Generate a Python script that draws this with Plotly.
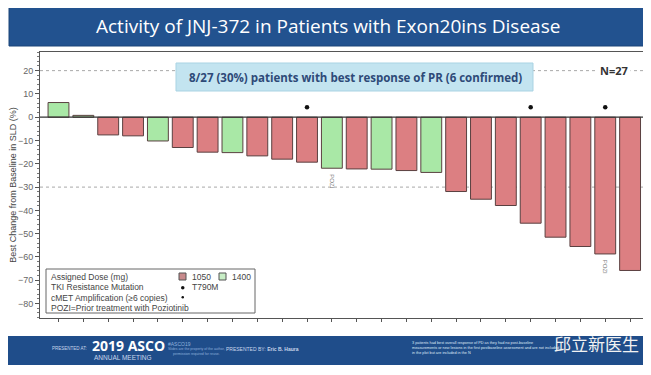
import plotly.graph_objects as go

# ---- data ----
patients = list(range(1, 25))
best_change = [6.3, 0.8, -7.6, -8.0, -10.2, -13.0, -15.0, -15.2, -16.6, -18.0, -19.3, -21.9,
               -22.2, -22.3, -22.9, -23.7, -31.9, -35.2, -37.9, -45.5, -51.5, -55.5, -58.7, -65.8]
dose = [1400, 1400, 1050, 1050, 1400, 1050, 1050, 1400, 1050, 1050, 1050, 1400,
        1050, 1400, 1050, 1400, 1050, 1050, 1050, 1050, 1050, 1050, 1050, 1050]
t790m_patients = [11, 23]
cmet_patients = [20]
pozi_patients = [12, 23]
marker_level = 4.3
y_ticks = [20, 10, 0, -10, -20, -30, -40, -50, -60, -70, -80]

OFF = 8  # page body margin
W, H = 651 - OFF, 375 - OFF
PL, PR, PT, PB = 40, 645, 52, 318  # plot area in page pixels
L, T = PL - OFF, PT - OFF
R, B = W - (PR - OFF), H - (PB - OFF)
PW, PH = PR - PL, PB - PT


def px(x):
    return (x - PL) / PW


def py(y):
    return (PB - y) / PH


RED = "#dc7f82"
GREEN = "#a9e8a6"
colors = [RED if d == 1050 else GREEN for d in dose]

fig = go.Figure()
fig.add_trace(go.Bar(
    x=patients, y=best_change, width=0.84,
    marker=dict(color=colors, line=dict(color="#5a4040", width=1)),
    showlegend=False, hoverinfo="skip"))

dots_x = t790m_patients + cmet_patients
fig.add_trace(go.Scatter(
    x=dots_x, y=[marker_level] * len(dots_x), mode="markers",
    marker=dict(color="#111111", size=4.5), showlegend=False, hoverinfo="skip"))

for p in pozi_patients:
    fig.add_annotation(x=p, y=best_change[p - 1], yshift=-4, text="POZI", textangle=90,
                       showarrow=False, yanchor="top", xanchor="center",
                       font=dict(size=6, color="#777777", family="Liberation Sans"))

shapes = []
for yv in [20, -30]:
    shapes.append(dict(type="line", xref="paper", yref="y", x0=0, x1=1, y0=yv, y1=yv,
                       line=dict(color="#a8a8a8", width=1, dash="3px,3px"), layer="below"))
shapes.append(dict(type="line", xref="paper", yref="y", x0=0, x1=1, y0=0, y1=0,
                   line=dict(color="#333333", width=1.2)))
# title banner
shapes.append(dict(type="rect", xref="paper", yref="paper", x0=px(9), x1=px(646), y0=py(46), y1=py(6),
                   fillcolor="#22528f", line=dict(color="#1a4478", width=1), layer="above"))
# response box
shapes.append(dict(type="rect", xref="paper", yref="paper", x0=px(176), x1=px(533), y0=py(91), y1=py(63),
                   fillcolor="#c3e4f0", line=dict(color="#a9d3e3", width=1), layer="above"))
# legend box
shapes.append(dict(type="rect", xref="paper", yref="paper", x0=px(46), x1=px(255), y0=py(313), y1=py(269),
                   fillcolor="white", line=dict(color="#666666", width=1), layer="above"))
shapes.append(dict(type="rect", xref="paper", yref="paper", x0=px(179), x1=px(186), y0=py(280), y1=py(273),
                   fillcolor="#c88a8c", line=dict(color="#555555", width=1), layer="above"))
shapes.append(dict(type="rect", xref="paper", yref="paper", x0=px(219), x1=px(226), y0=py(280), y1=py(273),
                   fillcolor="#c8eec6", line=dict(color="#555555", width=1), layer="above"))
shapes.append(dict(type="circle", xref="paper", yref="paper", x0=px(181), x1=px(184.5), y0=py(289.5), y1=py(286),
                   fillcolor="#111111", line=dict(width=0), layer="above"))
shapes.append(dict(type="circle", xref="paper", yref="paper", x0=px(181.5), x1=px(184), y0=py(298.5), y1=py(296),
                   fillcolor="#111111", line=dict(width=0), layer="above"))
# footer band
shapes.append(dict(type="rect", xref="paper", yref="paper", x0=px(2), x1=px(646), y0=py(365), y1=py(336),
                   fillcolor="#1f4d8a", line=dict(width=0), layer="above"))
fig.update_layout(shapes=shapes)

ann = []
ann.append(dict(x=px(328), y=py(26), text="Activity of JNJ-372 in Patients with Exon20ins Disease",
                font=dict(size=19, color="white", family="Open Sans")))
ann.append(dict(x=px(355), y=py(77), text="<b>8/27 (30%) patients with best response of PR (6 confirmed)</b>",
                font=dict(size=11.5, color="#2e4a78", family="Open Sans")))
ann.append(dict(x=px(614), y=py(71), text="<b>N=27</b>", bgcolor="white", borderpad=2,
                font=dict(size=11, color="#333333", family="Open Sans")))
leg_font = dict(size=8.5, color="#444444", family="Liberation Sans")
for txt, yy in [("Assigned Dose (mg)", 276.5), ("TKI Resistance Mutation", 287),
                ("cMET Amplification (≥6 copies)", 297.5), ("POZI=Prior treatment with Poziotinib", 307.5)]:
    ann.append(dict(x=px(48.5), y=py(yy), text=txt, xanchor="left", font=leg_font))
for txt, xx, yy in [("1050", 190, 276.5), ("1400", 230, 276.5), ("T790M", 190, 287)]:
    ann.append(dict(x=px(xx), y=py(yy), text=txt, xanchor="left", font=leg_font))
# footer texts
ann.append(dict(x=px(50), y=py(348), text="PRESENTED AT:", xanchor="left",
                font=dict(size=4.5, color="#c9d6ea", family="Liberation Sans")))
ann.append(dict(x=px(90), y=py(345), text="<b>2019 ASCO</b>", xanchor="left",
                font=dict(size=14, color="white", family="Open Sans")))
ann.append(dict(x=px(92), y=py(357), text="ANNUAL MEETING", xanchor="left",
                font=dict(size=6.5, color="#c9d6ea", family="Liberation Sans")))
ann.append(dict(x=px(166), y=py(344), text="#ASCO19", xanchor="left",
                font=dict(size=5, color="#8fb0dd", family="Liberation Sans")))
ann.append(dict(x=px(166), y=py(351), text="Slides are the property of the author,<br>permission required for reuse.",
                xanchor="left", font=dict(size=3.5, color="#8fb0dd", family="Liberation Sans")))
ann.append(dict(x=px(224), y=py(349), text="PRESENTED BY: <b>Eric B. Haura</b>", xanchor="left",
                font=dict(size=5, color="#c9d6ea", family="Liberation Sans")))
ann.append(dict(x=px(410), y=py(348),
                text="3 patients had best overall response of PD as they had no post-baseline<br>"
                     "measurements or new lesions in the first postbaseline assessment and are not included<br>"
                     "in the plot but are included in the N",
                xanchor="left", align="left",
                font=dict(size=3.8, color="#dfe8f5", family="Liberation Sans")))
ann.append(dict(x=px(596), y=py(343), text="邱立新医生",
                font=dict(size=17, color="#f2f2f2", family="Noto Sans CJK SC")))
for a in ann:
    a.update(xref="paper", yref="paper", showarrow=False)
    a.setdefault("xanchor", "center")
    a.setdefault("yanchor", "middle")
    fig.add_annotation(**a)

fig.update_layout(
    width=W, height=H, margin=dict(l=L, r=R, t=T, b=B, autoexpand=False),
    paper_bgcolor="white", plot_bgcolor="white",
    xaxis=dict(range=[0.256, 24.6], tickvals=patients, showticklabels=False, automargin=False,
               ticks="outside", ticklen=3, tickcolor="#555555",
               showgrid=False, zeroline=False, showline=True, linecolor="#555555", linewidth=1,
               mirror=True),
    yaxis=dict(range=[-86.2, 28.0], tickvals=y_ticks, ticks="outside", ticklen=4, tickcolor="#555555",
               automargin=False,
               minor=dict(dtick=2, ticks="outside", ticklen=2, tickcolor="#777777"),
               tickfont=dict(size=9, color="#666666", family="Liberation Sans"),
               showgrid=False, zeroline=False, showline=True, linecolor="#555555", linewidth=1,
               mirror=True,
               title=dict(text="Best Change from Baseline in SLD (%)", standoff=6,
                          font=dict(size=9, color="#444444", family="Liberation Sans"))),
)

fig.write_html("out.html")
